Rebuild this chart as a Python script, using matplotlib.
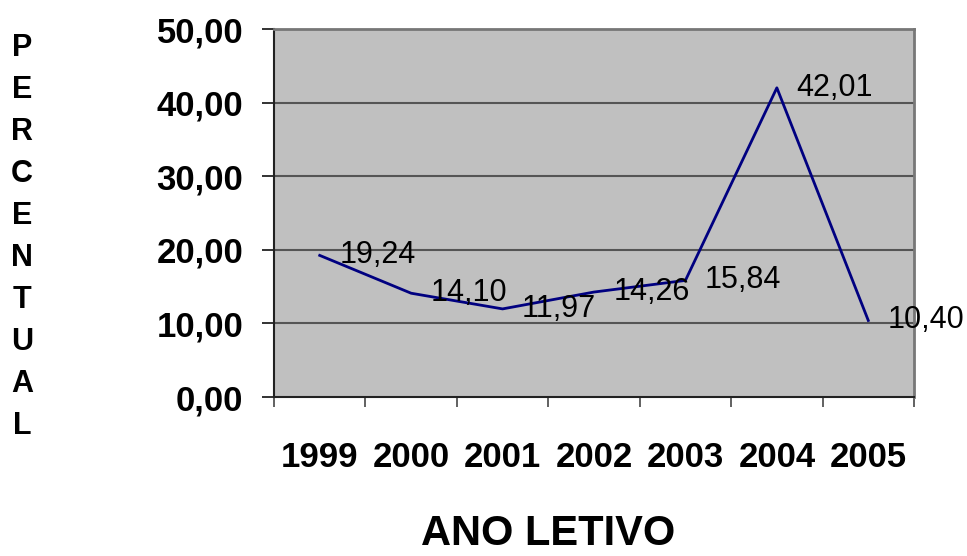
import matplotlib
matplotlib.use("Agg")
import matplotlib.pyplot as plt
import numpy as np

# - Data -
anos = ['1999', '2000', '2001', '2002', '2003', '2004', '2005']
percentual = [19.24, 14.10, 11.97, 14.26, 15.84, 42.01, 10.40]
y_ticks = [0, 10, 20, 30, 40, 50]

plt.rcParams['font.family'] = ['Liberation Sans', 'DejaVu Sans']

fig = plt.figure(figsize=(9.67, 5.56), dpi=100)
ax = fig.add_axes([274/967, 159/556, 640/967, 368/556])
ax.set_facecolor('#c0c0c0')

x = np.arange(len(anos))
ax.plot(x, percentual, color='#000080', lw=2, zorder=3)

# - Data labels to the right of each point -
for xi, v in zip(x, percentual):
    ax.annotate(f'{v:.2f}'.replace('.', ','), (xi, v), xytext=(14, 0),
                textcoords='offset points', ha='left', va='center',
                fontsize=22, color='black', zorder=4, annotation_clip=False)

ax.set_xlim(-0.5, len(anos) - 0.5)
ax.set_ylim(0, 50)

# - Grid and spines -
for v in y_ticks[1:-1]:
    ax.axhline(v, color='#555555', lw=1.5, zorder=1)
ax.spines['left'].set_color('#222222')
ax.spines['bottom'].set_color('#222222')
ax.spines['left'].set_linewidth(1.5)
ax.spines['bottom'].set_linewidth(1.5)
ax.spines['top'].set_color('#777777')
ax.spines['right'].set_color('#777777')
ax.spines['top'].set_linewidth(2)
ax.spines['right'].set_linewidth(2)

# - Ticks -
ax.set_yticks(y_ticks)
ax.set_yticklabels([f'{v:.2f}'.replace('.', ',') for v in y_ticks],
                   fontsize=25, fontweight='bold')
ax.tick_params(axis='y', length=9, width=1.3, color='#222222', pad=13)

ax.set_xticks(x)
ax.set_xticklabels(anos, fontsize=25, fontweight='bold')
ax.set_xticks(np.arange(-0.5, len(anos)), minor=True)
ax.tick_params(axis='x', which='major', length=0, pad=32)
ax.tick_params(axis='x', which='minor', length=7, width=1.3, color='#555555')

# - Axis titles -
fig.text(22/967, 1 - 237/556, '\n'.join('PERCENTUAL'), ha='center', va='center',
         fontsize=22, fontweight='bold', linespacing=1.52)
fig.text(548/967, 0.003, 'ANO LETIVO', ha='center', va='bottom',
         fontsize=30, fontweight='bold')

fig.savefig('out.png', dpi=100)
